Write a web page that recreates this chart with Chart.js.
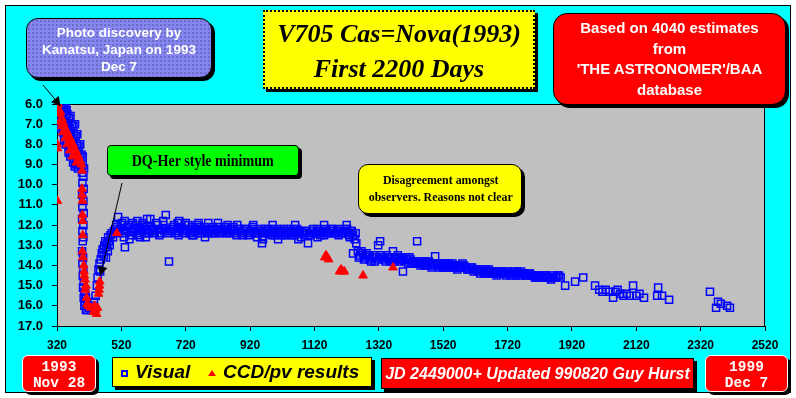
<!DOCTYPE html>
<html>
<head>
<meta charset="utf-8">
<script src="https://cdn.jsdelivr.net/npm/chart.js@4.4.0/dist/chart.umd.min.js"></script>
<style>
    body {
        margin: 0;
        background: #fff;
        width: 796px;
        height: 398px;
        overflow: hidden;
        position: relative;
        font-family: "Liberation Sans", Arial, sans-serif;
    }
    #frame {
        position: absolute;
        left: 5px;
        top: 5px;
        width: 784px;
        height: 386px;
        background: #00ffff;
        border: 1px solid #000;
    }
    #chartWrap {
        position: absolute;
        left: 0;
        top: 0;
        width: 796px;
        height: 398px;
    }
    .box {
        position: absolute;
        box-sizing: border-box;
        text-align: center;
        box-shadow: 3px 3px 0 #000;
        white-space: nowrap;
    }
    #discovery {
        left: 26px; top: 18px; width: 186px; height: 60px;
        border: 1px solid #000;
        border-radius: 12px;
        background-color: #8585f0;
        background-image: radial-gradient(rgba(0,0,0,0.85) 0.55px, transparent 0.75px);
        background-size: 4px 4px;
        color: #fff;
        font-weight: bold;
        font-size: 13.5px;
        line-height: 17px;
        padding-top: 5px;
    }
    #title {
        left: 263px; top: 10px; width: 272px; height: 79px;
        border: 2px dotted #000;
        background: #ffff00;
        font-family: "Liberation Serif", "Times New Roman", serif;
        font-weight: bold;
        font-style: italic;
        font-size: 26px;
        line-height: 35px;
        padding-top: 4px;
    }
    #source {
        left: 553px; top: 13px; width: 233px; height: 92px;
        border: 1px solid #000;
        border-radius: 14px;
        background: #ff0000;
        color: #fff;
        font-weight: bold;
        font-size: 15px;
        line-height: 20.7px;
        padding-top: 4px;
    }
    #dq {
        left: 107px; top: 145px; width: 192px; height: 31px;
        border: 1px solid #000;
        border-radius: 4px;
        background: #00ff00;
        font-family: "Liberation Serif", "Times New Roman", serif;
        font-weight: bold;
        font-size: 16px;
        line-height: 29px;
    }
    #disagree {
        left: 358px; top: 164px; width: 164px; height: 50px;
        border: 1px solid #000;
        border-radius: 10px;
        background: #ffff00;
        font-family: "Liberation Serif", "Times New Roman", serif;
        font-weight: bold;
        font-size: 13.5px;
        line-height: 17px;
        padding-top: 6px;
    }
    .narrow { display: inline-block; transform: scaleX(0.88); }
    .dateBox {
        background: #ff0000;
        border: 1px solid #fff;
        border-radius: 6px;
        color: #fff;
        font-family: "Liberation Mono", "Courier New", monospace;
        font-weight: bold;
        font-size: 14.5px;
        line-height: 16px;
        padding-top: 3px;
    }
    #start { left: 22px; top: 355px; width: 74px; height: 37px; }
    #end { left: 705px; top: 355px; width: 83px; height: 37px; }
    #legend {
        left: 112px; top: 357px; width: 260px; height: 30px;
        border: 1px solid #000;
        background: #ffff00;
        text-align: left;
        font-weight: bold;
        font-style: italic;
        font-size: 19px;
        line-height: 28px;
    }
    .sq {
        position: absolute; left: 8px; top: 12px;
        width: 3px; height: 3px;
        border: 2px solid #0000ff;
    }
    .tri {
        position: absolute; left: 95px; top: 12px;
        width: 0; height: 0;
        border-left: 4px solid transparent;
        border-right: 4px solid transparent;
        border-bottom: 6px solid #ff0000;
    }
    #legend .l1 { position: absolute; left: 22px; top: 0; }
    #legend .l2 { position: absolute; left: 110px; top: 0; }
    #jd {
        left: 381px; top: 358px; width: 313px; height: 31px;
        border: 1px solid #000;
        background: #ff0000;
        color: #fff;
        font-weight: bold;
        font-style: italic;
        font-size: 16px;
        line-height: 29px;
    }
</style>
</head>
<body>
<div id="frame"></div>
<div id="chartWrap"><canvas id="novaChart" width="796" height="398"></canvas></div>

<div class="box" id="discovery">Photo discovery by<br>Kanatsu, Japan on 1993<br>Dec 7</div>
<div class="box" id="title">V705 Cas=Nova(1993)<br>First 2200 Days</div>
<div class="box" id="source">Based on 4040 estimates<br>from<br>'THE ASTRONOMER'/BAA<br>database</div>
<div class="box" id="dq"><span class="narrow">DQ-Her style minimum</span></div>
<div class="box" id="disagree"><span class="narrow">Disagreement amongst<br>observers. Reasons not clear</span></div>
<div class="box dateBox" id="start">1993<br>Nov 28</div>
<div class="box" id="legend"><span class="sq"></span><span class="l1">Visual</span><span class="tri"></span><span class="l2">CCD/pv results</span></div>
<div class="box" id="jd">JD 2449000+ Updated 990820 Guy Hurst</div>
<div class="box dateBox" id="end">1999<br>Dec 7</div>

<script>
// Axis setup (JD 2449000+ and magnitude)
const dayTicks = [320, 520, 720, 920, 1120, 1320, 1520, 1720, 1920, 2120, 2320, 2520];
const magTicks = [6, 7, 8, 9, 10, 11, 12, 13, 14, 15, 16, 17];

// Visual estimates [day, mag]
const visualObs = [
    // outburst decline
    [321,6.0],[326,6.0],[331,6.0],[336,6.1],[341,6.0],[346,6.2],[350,6.3],
    [322,6.3],[327,6.4],[332,6.3],[337,6.5],[342,6.4],[347,6.6],[352,6.5],[357,6.7],[362,6.6],
    [325,6.7],[330,6.9],[335,6.8],[340,7.0],[345,6.9],[350,7.1],[355,7.0],[360,7.2],[366,7.0],
    [371,7.1],[376,7.0],
    [333,7.2],[338,7.4],[343,7.3],[348,7.5],[353,7.4],[358,7.6],[363,7.5],[368,7.7],[373,7.5],
    [378,7.6],[383,7.5],
    [342,7.8],[347,8.0],[352,7.9],[357,8.1],[362,8.0],[367,8.2],[372,8.0],[377,8.2],[382,8.0],
    [387,8.1],[392,8.0],
    [356,8.4],[361,8.6],[366,8.5],[371,8.7],[376,8.5],[381,8.7],[386,8.5],[391,8.6],[396,8.5],
    [400,8.6],
    [370,8.9],[375,9.1],[380,9.0],[385,9.2],[390,9.0],[395,9.1],[400,9.0],[404,9.2],
    [398,9.4],[402,9.6],[399,9.9],[403,10.2],[398,10.5],[402,10.8],[399,11.1],[403,11.4],
    [398,11.7],[402,12.0],[399,12.3],[402,12.6],[400,12.8],
    // deep minimum and recovery
    [398,13.3],[401,13.6],[399,13.9],[402,14.2],[400,14.5],[403,14.8],[401,15.1],[405,15.3],
    [403,15.6],[407,15.8],[405,16.0],[410,16.2],[415,16.2],[420,16.1],[425,16.2],[430,16.0],
    [435,15.8],[410,15.6],[414,15.9],[408,15.4],
    [440,15.5],[444,15.0],[446,14.6],[449,14.2],[452,13.9],[454,14.3],[456,13.7],[459,13.4],
    [462,13.2],[465,13.5],[467,13.0],[470,12.8],[473,13.1],[476,12.9],[479,12.6],[482,12.8],
    [486,12.5],[490,12.4],[494,12.6],[497,12.3],[501,12.2],[504,12.0],[472,13.6],[478,13.3],
    [484,13.0],[531,13.1],[510,11.6],[578,12.6],
    // plateau
    [505,12.1],[512,12.3],[520,12.0],[526,12.2],[532,12.4],[540,12.1],[548,12.3],[555,11.9],
    [560,12.2],[568,12.4],[575,12.1],[582,12.3],[590,12.0],[598,12.2],[605,12.4],[612,12.1],
    [620,12.3],[628,11.9],[635,12.2],[642,12.4],[650,12.0],[658,11.5],[660,12.2],[668,13.8],
    [672,12.3],[680,12.1],[688,12.4],[695,11.9],[702,12.2],[710,12.3],[718,12.0],[725,12.2],
    [732,12.4],[740,12.1],[748,12.3],[755,12.0],[762,12.2],[770,12.4],[778,12.1],[785,12.3],
    [792,12.2],[800,12.4],[808,12.2],[815,12.3],[822,12.1],[830,12.3],[838,12.2],[845,12.4],
    [852,12.2],[860,12.3],[868,12.1],[875,12.4],[882,12.2],[890,12.3],[898,12.5],[905,12.2],
    [912,12.4],[920,12.3],[928,12.1],[935,12.4],[942,12.6],[950,12.3],[957,12.9],[958,12.6],
    [965,12.2],[972,12.4],[980,12.3],[988,12.5],[995,12.2],[1002,12.4],[1007,12.7],[1010,12.3],
    [1018,12.5],[1025,12.2],[1032,12.4],[1040,12.3],[1048,12.5],[1055,12.2],[1062,12.4],
    [1070,12.3],[1078,12.6],[1085,12.4],[1092,12.3],[1100,12.9],[1105,12.5],[1112,12.3],
    [1120,12.4],[1128,12.2],[1135,12.4],[1142,12.3],[1150,12.5],[1158,12.3],[1165,12.4],
    [1172,12.2],[1180,12.4],[1188,12.3],[1195,12.5],[1202,12.3],[1210,12.4],[1218,12.2],
    [1225,12.4],[1232,12.3],[1240,12.5],[1245,12.7],[1250,12.9],[1240,13.4],
    [508,12.4],[516,12.2],[522,11.9],[528,12.6],[536,12.3],[544,12.0],[552,12.5],[558,12.2],
    [564,12.0],[572,12.5],[579,12.2],[586,11.9],[594,12.4],[601,12.1],[608,12.3],[616,12.2],
    [624,12.4],[632,12.0],[638,12.5],[646,12.2],[654,12.3],[664,12.4],[676,12.2],[684,12.0],
    [692,12.3],[698,12.5],[706,12.1],[714,12.4],[721,12.2],[728,12.0],[736,12.3],[744,12.5],
    [751,12.2],[758,12.4],[766,12.1],[774,12.3],[781,12.2],[788,12.4],[796,12.3],[804,12.1],
    [811,12.4],[818,12.2],[826,12.4],[834,12.3],[841,12.1],[848,12.3],[856,12.4],[864,12.2],
    [871,12.3],[878,12.5],[886,12.2],[894,12.4],[901,12.3],[908,12.2],[916,12.5],[924,12.3],
    [931,12.2],[938,12.3],[946,12.4],[954,12.2],[961,12.4],[968,12.3],[976,12.2],[984,12.4],
    [991,12.3],[998,12.5],[1006,12.2],[1014,12.4],[1021,12.3],[1028,12.5],[1036,12.2],
    [1044,12.4],[1051,12.3],[1058,12.5],[1066,12.2],[1074,12.4],[1081,12.3],[1088,12.5],
    [1096,12.3],[1108,12.4],[1116,12.2],[1124,12.4],[1131,12.3],[1138,12.5],[1146,12.3],
    [1154,12.2],[1161,12.4],[1168,12.3],[1176,12.2],[1184,12.4],[1191,12.3],[1198,12.2],
    [1206,12.4],[1214,12.3],[1221,12.2],[1228,12.5],[1236,12.3],[1248,12.4],
    [530,11.8],[570,11.8],[610,11.7],[700,11.8],[760,11.9],[820,11.9],[880,12.0],
    [545,12.7],[596,12.6],[740,12.5],[780,12.6],[960,12.7],[1070,12.7],[1130,12.6],[1230,12.6],
    [600,11.7],[650,11.8],[720,11.9],[790,11.9],[850,12.0],[930,12.0],[990,12.0],[1060,12.0],
    [1150,12.0],[1220,12.0],
    // slow fade
    [1255,13.3],[1262,13.5],[1270,13.4],[1278,13.6],[1285,13.5],[1292,13.7],[1300,13.6],
    [1308,13.8],[1318,13.0],[1324,12.8],[1330,13.6],[1338,13.7],[1345,13.5],[1352,13.7],
    [1360,13.6],[1364,13.3],[1368,13.8],[1375,13.6],[1382,13.7],[1390,13.6],[1395,14.3],
    [1400,13.8],[1408,13.7],[1415,13.6],[1420,13.9],[1428,13.8],[1435,13.9],[1439,12.8],
    [1442,13.8],[1450,14.0],[1458,13.9],[1465,13.8],[1472,14.0],[1480,13.9],[1488,14.0],
    [1495,13.55],[1500,14.0],[1508,14.1],[1515,13.9],[1522,14.0],[1530,14.1],[1538,13.9],
    [1545,14.0],[1552,14.1],[1560,14.0],[1568,14.1],[1575,14.0],[1580,13.9],[1590,14.1],
    [1600,14.2],[1610,14.1],[1620,14.2],[1630,14.3],[1640,14.2],[1648,14.4],[1655,14.3],
    [1662,14.2],[1670,14.4],[1678,14.3],[1686,14.5],[1694,14.3],[1700,14.4],[1710,14.4],
    [1720,14.3],[1730,14.5],[1740,14.4],[1750,14.3],[1758,14.5],[1766,14.4],[1775,14.5],
    [1785,14.4],[1795,14.5],[1805,14.6],[1815,14.5],[1825,14.6],[1835,14.5],[1845,14.6],
    [1855,14.7],[1865,14.6],[1875,14.5],[1885,14.6],
    [1258,13.6],[1266,13.3],[1274,13.7],[1282,13.4],[1290,13.5],[1296,13.8],[1304,13.5],
    [1312,13.6],[1320,13.7],[1327,13.5],[1334,13.6],[1341,13.8],[1348,13.6],[1356,13.8],
    [1372,13.7],[1379,13.5],[1386,13.8],[1393,13.7],[1404,13.6],[1411,13.9],[1418,13.7],
    [1425,13.9],[1432,13.8],[1446,13.9],[1454,13.8],[1462,14.0],[1469,13.9],[1476,13.8],
    [1484,14.1],[1492,13.9],[1504,13.9],[1512,14.0],[1519,14.1],[1526,13.9],[1534,14.0],
    [1542,14.1],[1549,13.9],[1556,14.0],[1564,14.2],[1572,14.1],[1585,14.0],[1595,14.2],
    [1605,14.1],[1615,14.3],[1625,14.2],[1635,14.4],[1645,14.3],[1652,14.2],[1660,14.4],
    [1666,14.3],[1674,14.4],[1682,14.3],[1690,14.4],[1705,14.3],[1715,14.5],[1725,14.4],
    [1735,14.3],[1745,14.5],[1754,14.4],[1762,14.3],[1770,14.4],[1780,14.5],[1790,14.4],
    [1800,14.5],[1810,14.6],[1820,14.5],[1830,14.6],[1840,14.5],[1850,14.6],[1860,14.5],
    [1870,14.6],[1880,14.5],
    // late tail
    [1899,15.0],[1930,14.8],[1955,14.6],
    [1992,15.0],[2005,15.2],[2015,15.3],[2025,15.2],[2035,15.3],[2048,15.6],[2055,15.3],
    [2062,15.2],[2070,15.4],[2080,15.5],[2090,15.4],[2100,15.5],[2110,15.0],[2120,15.5],
    [2130,15.4],[2144,15.6],[2185,15.5],[2188,15.1],[2200,15.5],[2222,15.7],[2349,15.3],
    [2368,16.1],[2374,15.8],[2383,15.9],[2402,16.0],[2411,16.1]
];

// CCD / photovisual results [day, mag]
const ccdObs = [
    [321,8.0],[321,8.2],[321,10.8],
    [324,6.0],[323,6.3],[327,6.5],[331,6.4],[335,6.7],[328,6.9],[339,6.9],[334,7.1],[343,7.1],
    [347,7.3],[338,7.4],[352,7.4],[356,7.6],[345,7.7],[361,7.7],[365,7.9],[352,8.0],[370,8.0],
    [374,8.2],[360,8.3],[378,8.3],[383,8.5],[368,8.6],[387,8.6],[392,8.8],[380,8.9],[396,9.0],
    [398,9.3],[398,10.2],[398,10.5],[399,10.8],[399,11.5],[400,11.8],[400,12.5],
    [399,13.3],[401,13.6],[403,14.0],[404,14.3],[405,14.5],[407,14.7],[410,15.0],[408,15.2],
    [412,15.6],[414,15.9],[418,16.0],[425,16.1],[434,16.3],[437,16.0],[440,16.2],[443,16.4],
    [446,16.1],[449,15.4],[451,15.2],[452,15.0],[453,14.8],[506,12.4],
    [1152,13.6],[1156,13.5],[1160,13.6],[1164,13.7],[1198,14.3],[1203,14.2],[1208,14.3],
    [1213,14.3],[1271,14.5],[1364,14.1]
];

// Callout arrow tips [day, mag]
const discoveryTip = [325, 6.0];
const minimumTip = [455, 14.5];

const tickFont = { family: "'Liberation Sans', Arial, sans-serif", weight: "bold" };

// Gray plot area
const plotBackground = {
    id: "plotBackground",
    beforeDatasetsDraw(chart) {
        const { ctx, chartArea: a } = chart;
        ctx.save();
        ctx.fillStyle = "#c0c0c0";
        ctx.fillRect(a.left, a.top, a.right - a.left, a.bottom - a.top);
        ctx.strokeStyle = "#000";
        ctx.lineWidth = 1;
        ctx.strokeRect(a.left + 0.5, a.top + 0.5, a.right - a.left - 1, a.bottom - a.top);
        ctx.restore();
    },
};

// Callout lines with black arrow heads
function drawArrow(ctx, x0, y0, x1, y1) {
    ctx.beginPath();
    ctx.moveTo(x0, y0);
    ctx.lineTo(x1, y1);
    ctx.stroke();
    const ang = Math.atan2(y1 - y0, x1 - x0);
    const len = 9, half = 5;
    ctx.beginPath();
    ctx.moveTo(x1, y1);
    ctx.lineTo(x1 - len * Math.cos(ang) + half * Math.sin(ang), y1 - len * Math.sin(ang) - half * Math.cos(ang));
    ctx.lineTo(x1 - len * Math.cos(ang) - half * Math.sin(ang), y1 - len * Math.sin(ang) + half * Math.cos(ang));
    ctx.closePath();
    ctx.fill();
}

const callouts = {
    id: "callouts",
    afterDatasetsDraw(chart) {
        const { ctx, scales } = chart;
        ctx.save();
        ctx.strokeStyle = "#000";
        ctx.fillStyle = "#000";
        ctx.lineWidth = 1;
        drawArrow(ctx, 43, 85, scales.x.getPixelForValue(discoveryTip[0]) + 2, scales.y.getPixelForValue(discoveryTip[1]) + 2);
        drawArrow(ctx, 122, 183, scales.x.getPixelForValue(minimumTip[0]), scales.y.getPixelForValue(minimumTip[1]));
        ctx.restore();
    },
};

const ctx = document.getElementById("novaChart").getContext("2d");
const novaChart = new Chart(ctx, {
    type: "scatter",
    data: {
        datasets: [
            {
                label: "CCD/pv results",
                data: ccdObs.map(([x, y]) => ({ x, y })),
                pointStyle: "triangle",
                radius: 5,
                backgroundColor: "#ff0000",
                borderColor: "#ff0000",
                borderWidth: 1,
                order: 0,
            },
            {
                label: "Visual",
                data: visualObs.map(([x, y]) => ({ x, y })),
                pointStyle: "rect",
                radius: 5,
                backgroundColor: "rgba(0,0,0,0)",
                borderColor: "#0000ff",
                borderWidth: 1.5,
                order: 1,
            },
        ],
    },
    options: {
        responsive: false,
        animation: false,
        events: [],
        layout: { padding: { top: 104, right: 31, bottom: 0, left: 0 } },
        plugins: { legend: { display: false }, tooltip: { enabled: false } },
        scales: {
            x: {
                type: "linear",
                min: dayTicks[0],
                max: dayTicks[dayTicks.length - 1],
                afterBuildTicks: (s) => { s.ticks = dayTicks.map((v) => ({ value: v })); },
                afterFit: (s) => { s.height = 72; },
                ticks: {
                    color: "#000",
                    font: { ...tickFont, size: 12 },
                    padding: 7,
                    maxRotation: 0,
                    callback: (v) => String(v),
                },
                grid: { drawOnChartArea: false, tickLength: 5, color: "#000" },
                border: { color: "#000" },
            },
            y: {
                type: "linear",
                reverse: true,
                min: magTicks[0],
                max: magTicks[magTicks.length - 1],
                afterBuildTicks: (s) => { s.ticks = magTicks.map((v) => ({ value: v })); },
                afterFit: (s) => { s.width = 57; },
                ticks: {
                    color: "#000",
                    font: { ...tickFont, size: 13 },
                    padding: 9,
                    callback: (v) => v.toFixed(1),
                },
                grid: { drawOnChartArea: false, tickLength: 5, color: "#000" },
                border: { color: "#000" },
            },
        },
    },
    plugins: [plotBackground, callouts],
});
</script>
</body>
</html>
